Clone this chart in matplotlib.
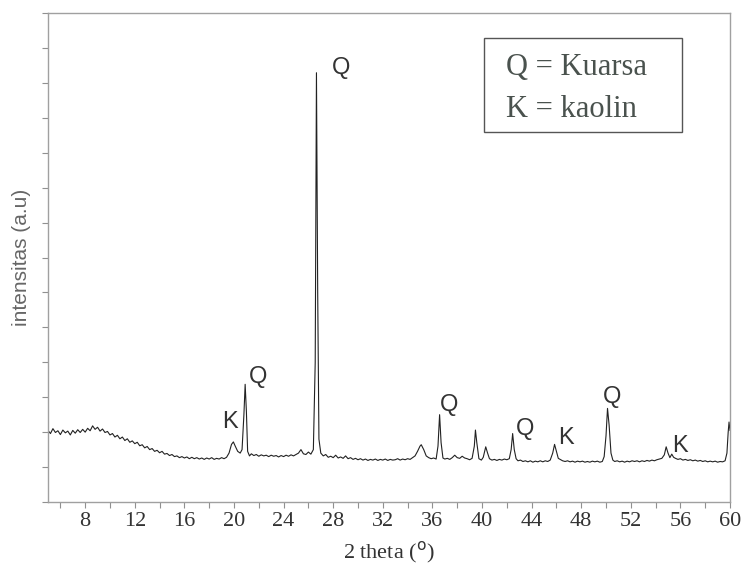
import matplotlib
matplotlib.use('Agg')
import matplotlib.pyplot as plt
from matplotlib.patches import Rectangle
from matplotlib.ticker import MultipleLocator

# XRD pattern (2 theta in degrees, intensity in arbitrary units)
two_theta = [
    5.0, 5.2, 5.4, 5.6, 5.8, 6.0, 6.2, 6.4, 6.6, 6.8, 7.0, 7.2, 7.4, 7.6, 7.8, 8.0, 8.2, 8.4, 8.6, 8.8,
    9.0, 9.2, 9.4, 9.6, 9.8, 10.0, 10.2, 10.4, 10.6, 10.8, 11.0, 11.2, 11.4, 11.6, 11.8, 12.0, 12.2, 12.4,
    12.6, 12.8, 13.0, 13.2, 13.4, 13.6, 13.8, 14.0, 14.2, 14.4, 14.6, 14.8, 15.0, 15.2, 15.4, 15.6, 15.8,
    16.0, 16.2, 16.4, 16.6, 16.8, 17.0, 17.2, 17.4, 17.6, 17.8, 18.0, 18.2, 18.4, 18.6, 18.8, 19.0, 19.2,
    19.4, 19.6, 19.8, 19.95, 20.1, 20.3, 20.5, 20.65, 20.8, 20.9, 21.0, 21.1, 21.25, 21.4,
    21.6, 21.8, 22.0, 22.2, 22.4, 22.6, 22.8, 23.0, 23.2, 23.4, 23.6, 23.8, 24.0, 24.2, 24.4, 24.6, 24.8,
    25.0, 25.2, 25.4, 25.6, 25.8, 26.0, 26.2, 26.4, 26.55, 26.65, 26.75, 26.85, 27.0, 27.2, 27.4, 27.6,
    27.8, 28.0, 28.2, 28.4, 28.6, 28.8, 29.0, 29.2, 29.4, 29.6, 29.8, 30.0, 30.2, 30.4, 30.6, 30.8, 31.0,
    31.2, 31.4, 31.6, 31.8, 32.0, 32.2, 32.4, 32.6, 32.8, 33.0, 33.2, 33.4, 33.6, 33.8, 34.0, 34.2, 34.4,
    34.6, 34.8, 35.0, 35.1, 35.3, 35.5, 35.7, 35.9, 36.1, 36.3, 36.45, 36.58, 36.7, 36.85, 37.0, 37.2,
    37.4, 37.6, 37.8, 38.0, 38.2, 38.4, 38.6, 38.8, 39.0, 39.2, 39.38, 39.47, 39.58, 39.75, 39.95, 40.1,
    40.3, 40.45, 40.6, 40.8, 41.0, 41.2, 41.4, 41.6, 41.8, 42.0, 42.2, 42.35, 42.47, 42.6, 42.75, 42.9,
    43.1, 43.3, 43.5, 43.7, 43.9, 44.1, 44.3, 44.5, 44.7, 44.9, 45.1, 45.3, 45.5, 45.7, 45.85, 46.0,
    46.15, 46.3, 46.5, 46.7, 46.9, 47.1, 47.3, 47.5, 47.7, 47.9, 48.1, 48.3, 48.5, 48.7, 48.9, 49.1,
    49.3, 49.5, 49.7, 49.85, 50.0, 50.12, 50.25, 50.4, 50.55, 50.7, 50.9, 51.1, 51.3, 51.5, 51.7, 51.9,
    52.1, 52.3, 52.5, 52.7, 52.9, 53.1, 53.3, 53.5, 53.7, 53.9, 54.1, 54.3, 54.5, 54.7, 54.85, 55.0,
    55.15, 55.3, 55.45, 55.6, 55.8, 56.0, 56.2, 56.4, 56.6, 56.8, 57.0, 57.2, 57.4, 57.6, 57.8, 58.0,
    58.2, 58.4, 58.6, 58.8, 59.0, 59.2, 59.4, 59.6, 59.75, 59.85, 59.92, 60.0,
]
intensity = [
    205, 196, 210, 199, 204, 193, 206, 198, 203, 192, 205, 197, 207, 199, 208, 200, 211, 204, 218, 208,
    214, 203, 209, 199, 202, 192, 196, 186, 191, 181, 186, 176, 181, 171, 175, 167, 171, 161,
    164, 155, 159, 150, 153, 145, 148, 141, 145, 137, 139, 133, 136, 130, 132, 127, 130,
    126, 129, 124, 128, 124, 127, 123, 126, 122, 126, 123, 127, 122, 125, 123, 127, 124,
    128, 140, 165, 172, 160, 145, 140, 150, 250, 337, 260, 145, 132, 138,
    133, 136, 131, 135, 132, 134, 130, 134, 131, 133, 129, 133, 130, 134, 131, 135, 132,
    136, 140, 150, 138, 136, 143, 137, 150, 400, 1229, 600, 180, 140, 132, 136, 128,
    131, 127, 134, 126, 129, 125, 132, 124, 127, 122, 125, 121, 124, 120, 123, 119, 122,
    120, 123, 119, 122, 120, 123, 119, 122, 120, 121, 124, 120, 123, 121, 124, 122, 127,
    132, 145, 160, 164, 150, 132, 127, 124, 126, 123, 160, 250, 170, 126, 123, 125,
    122, 127, 134, 127, 125, 131, 126, 124, 121, 125, 160, 206, 170, 124, 120, 128,
    158, 140, 124, 120, 122, 119, 122, 120, 123, 121, 124, 150, 196, 150, 124, 118,
    120, 116, 118, 115, 118, 114, 117, 115, 118, 115, 118, 116, 120, 140, 165, 145,
    125, 122, 118, 116, 118, 115, 117, 114, 117, 115, 117, 114, 116, 114, 117, 115,
    117, 114, 116, 130, 190, 268, 220, 140, 120, 116, 118, 115, 117, 114, 117, 115,
    118, 116, 118, 115, 118, 116, 119, 117, 120, 118, 121, 123, 125, 135, 158, 140,
    127, 137, 128, 125, 122, 124, 120, 122, 119, 121, 118, 120, 117, 119, 116, 118,
    115, 117, 115, 117, 114, 116, 115, 118, 140, 200, 229, 205,
]

# peak labels (phase letter and where it sits)
peak_tags = ['Q', 'Q', 'K', 'Q', 'Q', 'K', 'Q', 'K']
tag_x = [28.63, 21.94, 19.68, 37.34, 43.47, 46.77, 50.48, 55.97]
tag_y = [1243, 357, 229, 277, 209, 183, 300, 160]

legend_lines = ['Q = Kuarsa', 'K = kaolin']

fig = plt.figure(figsize=(7.46, 5.73), dpi=100)
ax = fig.add_axes([0.0643, 0.1239, 0.9143, 0.8534])

ax.plot(two_theta, intensity, color='#222222', linewidth=0.8)

ax.set_xlim(5, 60)
ax.set_ylim(0, 1400)
ax.xaxis.set_major_locator(MultipleLocator(4))
ax.xaxis.set_minor_locator(MultipleLocator(2))
ax.set_xticks(range(8, 61, 4))
ax.set_yticks(range(0, 1401, 100))
ax.set_yticklabels([])

for s in ax.spines.values():
    s.set_color('#a0a0a0')
    s.set_linewidth(1.0)
ax.tick_params(axis='both', which='both', direction='out', length=4, width=0.8,
               color='#909090')
ax.tick_params(axis='x', labelsize=16, labelcolor='#333333', pad=3)
for lab in ax.get_xticklabels():
    lab.set_fontfamily('Liberation Serif')

plt.rcParams['mathtext.fontset'] = 'stix'
ax.set_xlabel(r'2 theta ($^{\rm o}$)', fontsize=16, family='Liberation Serif',
              color='#333333', labelpad=7)
ax.set_ylabel('intensitas (a.u)', fontsize=15, family='Liberation Sans',
              color='#666666', labelpad=5)

for t, x, y in zip(peak_tags, tag_x, tag_y):
    ax.text(x, y, t, fontsize=17, family='Liberation Sans', color='#333333',
            ha='center', va='center')

ax.add_patch(Rectangle((0.639, 0.757), 0.290, 0.192, transform=ax.transAxes,
                       fill=False, edgecolor='#555555', linewidth=1.0))
ax.text(0.6716, 0.889, legend_lines[0], transform=ax.transAxes, fontsize=22,
        family='Liberation Serif', color='#4a524e', ha='left', va='center')
ax.text(0.6716, 0.803, legend_lines[1], transform=ax.transAxes, fontsize=22,
        family='Liberation Serif', color='#4a524e', ha='left', va='center')

fig.savefig('out.png', dpi=100)
